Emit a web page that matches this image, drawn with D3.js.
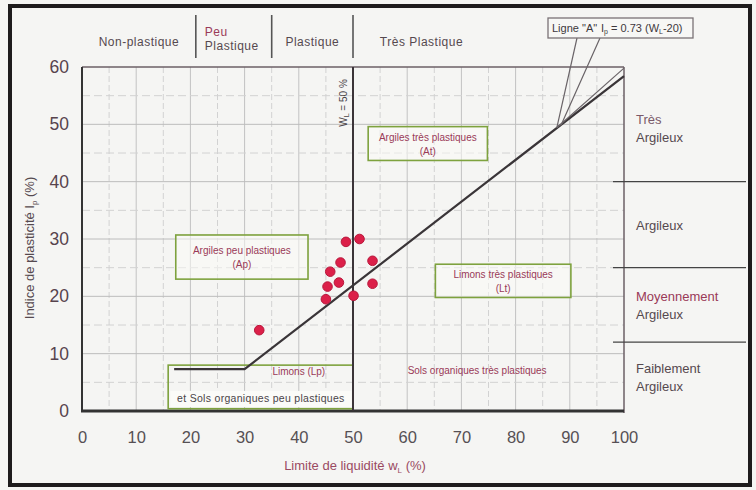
<!DOCTYPE html>
<html>
<head>
<meta charset="utf-8">
<script src="https://cdn.jsdelivr.net/npm/d3@7"></script>
<style>
  body { margin:0; background:#f5f5f3; }
  svg { display:block; font-family:"Liberation Sans", Arial, sans-serif; }
</style>
</head>
<body>
<div class="segment"></div>
<script>
// points (limite de liquidite wL, indice de plasticite Ip)
var wL = [32.7, 45.0, 45.3, 45.8, 47.4, 47.7, 48.7, 50.1, 51.2, 53.6, 53.6];
var Ip = [14.1, 19.5, 21.7, 24.3, 22.4, 25.9, 29.5, 20.1, 30.0, 26.2, 22.2];

var xTicks = [0, 10, 20, 30, 40, 50, 60, 70, 80, 90, 100];
var yTicks = [0, 10, 20, 30, 40, 50, 60];

// ligne A (with the horizontal foot)
var aLineWL = [17, 30, 100];
var aLineIp = [7.3, 7.3, 58.4];

// top classes (by wL) and right classes (by Ip)
var topClasses = ["Non-plastique", "Peu|Plastique", "Plastique", "Très Plastique"];
var topBounds = [0, 21, 35, 50];
var rightClasses = ["Très|Argileux", "Argileux", "Moyennement|Argileux", "Faiblement|Argileux"];
var rightBounds = [60, 40, 25, 12, 0];

var width = 756, height = 490;

var svg1 = d3.select(".segment")
  .append("svg")
  .attr("width", width)
  .attr("height", height);

svg1.append("rect")
  .attr("width", "100%")
  .attr("height", "100%")
  .attr("fill", "#f5f5f3");

var x = d3.scaleLinear().domain([0, 100]).range([82, 624]);
var y = d3.scaleLinear().domain([0, 60]).range([411, 67]);

var textCol = "#55494f", redCol = "#9a3a58";

// grid
var grid = svg1.append("g");
d3.range(5, 100, 5).forEach(function(v) {
  grid.append("line")
    .attr("x1", x(v)).attr("x2", x(v))
    .attr("y1", y(60)).attr("y2", y(0))
    .attr("stroke", v % 10 == 0 ? "#c2c2c2" : "#d2d2d2")
    .attr("stroke-dasharray", v % 10 == 0 ? null : "6,3");
});
d3.range(5, 60, 5).forEach(function(v) {
  grid.append("line")
    .attr("x1", x(0)).attr("x2", x(100))
    .attr("y1", y(v)).attr("y2", y(v))
    .attr("stroke", v % 10 == 0 ? "#bcbcbc" : "#d2d2d2")
    .attr("stroke-dasharray", v % 10 == 0 ? null : "8,4");
});

// plot frame
svg1.append("line").attr("x1", x(0)).attr("x2", x(100)).attr("y1", y(60)).attr("y2", y(60))
  .attr("stroke", "#6b5f66").attr("stroke-width", 1.5);
svg1.append("line").attr("x1", x(100)).attr("x2", x(100)).attr("y1", y(60)).attr("y2", y(0) + 2)
  .attr("stroke", "#6b5f66").attr("stroke-width", 1.5);
svg1.append("line").attr("x1", x(0)).attr("x2", x(0)).attr("y1", y(60)).attr("y2", y(0))
  .attr("stroke", "#333").attr("stroke-width", 2);
svg1.append("line").attr("x1", x(0) - 1).attr("x2", x(100)).attr("y1", y(0)).attr("y2", y(0))
  .attr("stroke", "#333").attr("stroke-width", 3);

// axes (labels only, no ticks)
var xAxis = svg1.append("g")
  .attr("transform", "translate(0," + 438 + ")")
  .call(d3.axisBottom(x).tickValues(xTicks).tickSize(0).tickPadding(0));
xAxis.select(".domain").remove();
xAxis.selectAll("text").attr("font-size", 16.5).attr("fill", "#565054")
  .attr("font-family", "Liberation Sans").attr("dy", "0.32em");

var yAxis = svg1.append("g")
  .attr("transform", "translate(" + 69 + ",0)")
  .call(d3.axisLeft(y).tickValues(yTicks).tickSize(0).tickPadding(0));
yAxis.select(".domain").remove();
yAxis.selectAll("text").attr("font-size", 17.5).attr("fill", "#57434d")
  .attr("font-family", "Liberation Sans");

// axis titles
var xt = svg1.append("text")
  .attr("x", 355).attr("y", 470)
  .attr("text-anchor", "middle")
  .attr("font-size", 13).attr("fill", "#9a4a62");
xt.append("tspan").text("Limite de liquidité w");
xt.append("tspan").attr("font-size", 8).attr("dy", 3).text("L");
xt.append("tspan").attr("dy", -3).text("  (%)");

var yt = svg1.append("text")
  .attr("transform", "translate(34,248) rotate(-90)")
  .attr("text-anchor", "middle")
  .attr("font-size", 13).attr("fill", textCol);
yt.append("tspan").text("Indice de plasticité I");
yt.append("tspan").attr("font-size", 8).attr("dy", 3).text("p");
yt.append("tspan").attr("dy", -3).text("  (%)");

// top header separators + labels
var head = svg1.append("g").attr("font-size", 12).attr("letter-spacing", 0.5).attr("fill", textCol);
topBounds.slice(1).forEach(function(b) {
  head.append("line")
    .attr("x1", x(b)).attr("x2", x(b)).attr("y1", 15).attr("y2", 58)
    .attr("stroke", "#555").attr("stroke-width", 1.6);
});
topClasses.forEach(function(c, i) {
  var lines = c.split("|");
  var x0 = x(topBounds[i]), x1 = i < 3 ? x(topBounds[i + 1]) : x(topBounds[i]) + 137;
  var t = head.append("text")
    .attr("text-anchor", lines.length > 1 ? "start" : "middle")
    .attr("x", lines.length > 1 ? x0 + 9 : (x0 + x1) / 2)
    .attr("y", lines.length > 1 ? 36 : 46)
    .attr("fill", lines.length > 1 ? redCol : textCol);
  lines.forEach(function(l, k) {
    t.append("tspan").attr("x", lines.length > 1 ? x0 + 9 : (x0 + x1) / 2)
      .attr("dy", k == 0 ? 0 : 14)
      .attr("fill", k == 1 ? textCol : null)
      .text(l);
  });
});

// right classes
var right = svg1.append("g").attr("font-size", 13).attr("fill", textCol);
rightBounds.slice(1, 4).forEach(function(b) {
  right.append("line")
    .attr("x1", 613).attr("x2", 746)
    .attr("y1", y(b)).attr("y2", y(b))
    .attr("stroke", "#444").attr("stroke-width", 1.3);
});
rightClasses.forEach(function(c, i) {
  var lines = c.split("|");
  var mid = (y(rightBounds[i]) + y(rightBounds[i + 1])) / 2;
  if (i == 0) mid = 128;
  var t = right.append("text").attr("x", 636);
  lines.forEach(function(l, k) {
    t.append("tspan").attr("x", 636)
      .attr("y", mid + (k - (lines.length - 1) / 2) * 18 + 5)
      .attr("fill", (i == 2 && k == 0) ? redCol : (i == 0 && k == 0 ? "#7a5a6a" : null))
      .text(l);
  });
});

// green zone boxes
var zones = [
  { x0: 17.3, x1: 41.7, y0: 23.0, y1: 30.7, t1: "Argiles peu plastiques", t2: "(Ap)" },
  { x0: 52.8, x1: 74.8, y0: 43.7, y1: 49.6, t1: "Argiles très plastiques", t2: "(At)" },
  { x0: 65.2, x1: 90.2, y0: 19.8, y1: 25.6, t1: "Limons très plastiques", t2: "(Lt)" }
];
var zg = svg1.append("g");
zones.forEach(function(z) {
  zg.append("rect")
    .attr("x", x(z.x0)).attr("y", y(z.y1))
    .attr("width", x(z.x1) - x(z.x0)).attr("height", y(z.y0) - y(z.y1))
    .attr("fill", "rgba(250,250,246,0.55)")
    .attr("stroke", "#7ea23e").attr("stroke-width", 1.6);
  var cx = (x(z.x0) + x(z.x1)) / 2, cy = (y(z.y0) + y(z.y1)) / 2;
  zg.append("text").attr("x", cx).attr("y", cy - 3).attr("text-anchor", "middle")
    .attr("font-size", 10).attr("fill", redCol).text(z.t1);
  zg.append("text").attr("x", cx).attr("y", cy + 11).attr("text-anchor", "middle")
    .attr("font-size", 10).attr("fill", redCol).text(z.t2);
});

// limons (Lp) box at the bottom
zg.append("rect")
  .attr("x", x(15.9)).attr("y", y(8.0))
  .attr("width", x(50) - x(15.9)).attr("height", y(0.4) - y(8.0))
  .attr("fill", "none").attr("stroke", "#7ea23e").attr("stroke-width", 1.6);
zg.append("rect")
  .attr("x", x(16.3)).attr("y", y(3.5))
  .attr("width", x(49.7) - x(16.3)).attr("height", y(0.7) - y(3.5))
  .attr("fill", "#fbfbf8");
zg.append("text").attr("x", x(40)).attr("y", y(6.2)).attr("text-anchor", "middle")
  .attr("font-size", 10).attr("fill", redCol).text("Limons (Lp)");
zg.append("text").attr("x", x(33)).attr("y", y(1.5)).attr("text-anchor", "middle")
  .attr("font-size", 10.5).attr("letter-spacing", 0.3).attr("fill", "#4a4448")
  .text("et Sols organiques peu plastiques");
zg.append("text").attr("x", x(72.9)).attr("y", y(6.5)).attr("text-anchor", "middle")
  .attr("font-size", 10).attr("fill", redCol).text("Sols organiques très plastiques");

// WL = 50 % line
svg1.append("line")
  .attr("x1", x(50)).attr("x2", x(50)).attr("y1", y(60)).attr("y2", y(0))
  .attr("stroke", "#3b3438").attr("stroke-width", 2);
var wt = svg1.append("text")
  .attr("transform", "translate(" + (x(50) - 6) + ",103) rotate(-90)")
  .attr("text-anchor", "middle").attr("font-size", 10).attr("fill", "#4a4448");
wt.append("tspan").text("W");
wt.append("tspan").attr("font-size", 7).attr("dy", 2).text("L");
wt.append("tspan").attr("dy", -2).text(" = 50 %");

// ligne A
var aLine = d3.line()
  .x(function(d) { return x(d[0]); })
  .y(function(d) { return y(d[1]); });
svg1.append("path")
  .datum(aLineWL.map(function(v, i) { return [v, aLineIp[i]]; }))
  .attr("d", aLine)
  .attr("fill", "none").attr("stroke", "#3a3538").attr("stroke-width", 2.2);
svg1.append("line")
  .attr("x1", x(87.6)).attr("y1", y(49.4)).attr("x2", x(100)).attr("y2", y(59.8))
  .attr("stroke", "#6a6468").attr("stroke-width", 1.2);

// callout box for ligne A
var tip = [x(87.6), y(49.4)];
svg1.append("path")
  .attr("d", "M577,38 L" + tip[0] + "," + tip[1] + " M600,38 L" + (tip[0] + 4) + "," + (tip[1] - 2))
  .attr("stroke", "#6a6468").attr("stroke-width", 1.2).attr("fill", "none");
svg1.append("rect")
  .attr("x", 548).attr("y", 18).attr("width", 145).attr("height", 20)
  .attr("fill", "#f7f7f5").attr("stroke", "#7a7276").attr("stroke-width", 1.3);
var ct = svg1.append("text").attr("x", 552).attr("y", 32).attr("font-size", 11).attr("fill", "#3e383c");
ct.append("tspan").text("Ligne \"A\"");
ct.append("tspan").attr("x", 601).text("I");
ct.append("tspan").attr("font-size", 7).attr("dy", 2).text("p");
ct.append("tspan").attr("dy", -2).text(" = 0.73 (W");
ct.append("tspan").attr("font-size", 7).attr("dy", 2).text("L");
ct.append("tspan").attr("dy", -2).text("-20)");

// data points
svg1.append("g").selectAll("circle")
  .data(wL.map(function(v, i) { return { w: v, ip: Ip[i] }; }))
  .enter()
  .append("circle")
  .attr("cx", function(d) { return x(d.w); })
  .attr("cy", function(d) { return y(d.ip); })
  .attr("r", 4.8)
  .style("fill", "#dc2049")
  .style("stroke", "#b8183c")
  .style("stroke-width", 1);

// outer frame
svg1.append("rect")
  .attr("x", 10).attr("y", 6).attr("width", 740).attr("height", 479)
  .attr("fill", "none").attr("stroke", "#1e1c1d").attr("stroke-width", 4);
</script>
</body>
</html>
